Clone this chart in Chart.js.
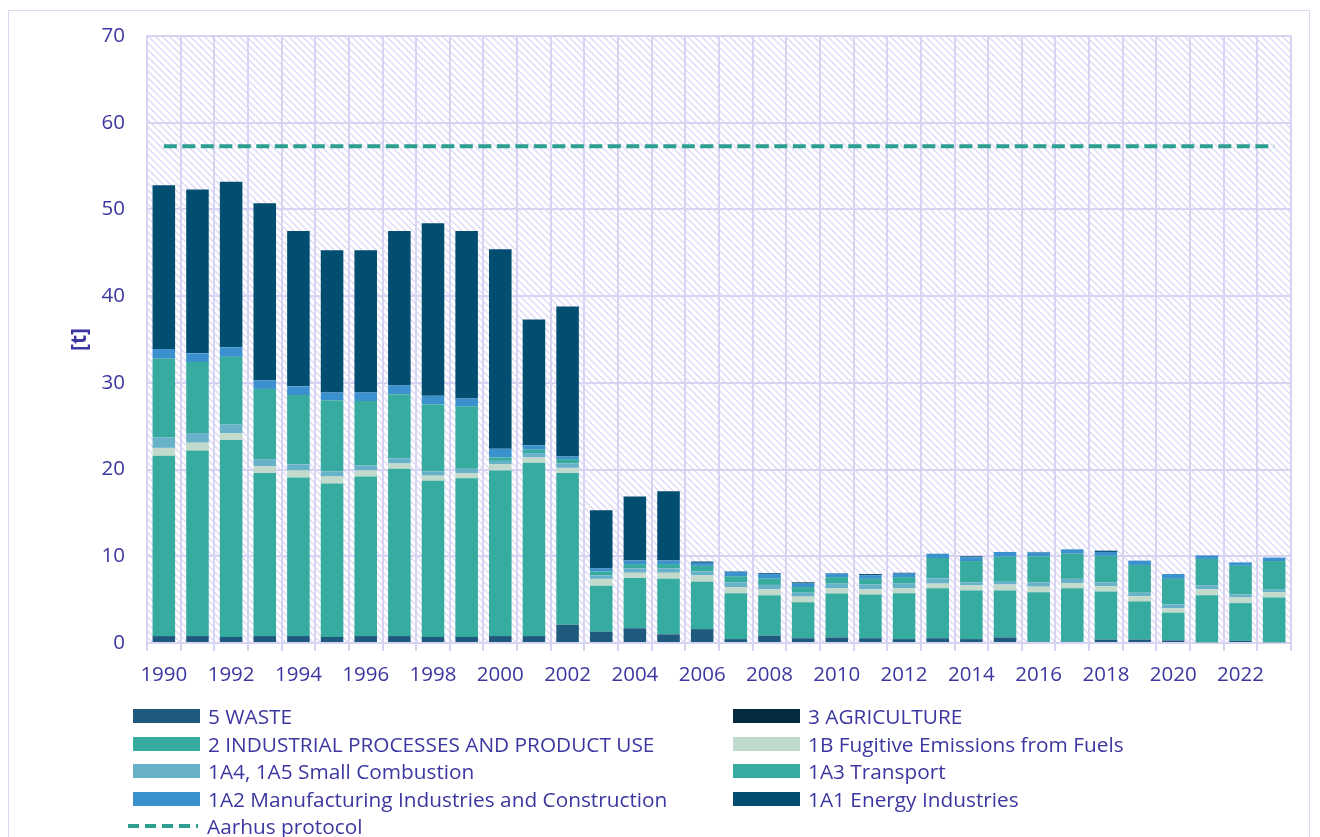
<!DOCTYPE html>
<html>
<head>
<meta charset="utf-8">
<script src="https://cdn.jsdelivr.net/npm/chart.js@4/dist/chart.umd.min.js"></script>
<style>
  html, body { margin: 0; padding: 0; background: #ffffff; }
  #wrap { position: relative; width: 1320px; height: 837px; overflow: hidden; }
  #frame { position: absolute; left: 8px; top: 10px; width: 1302px; height: 840px; border: 1px solid #dcd8f2; box-sizing: border-box; }
  #cv { position: absolute; left: 0; top: 0; }
  #legend { position: absolute; left: 0; top: 0; width: 1320px; height: 837px; pointer-events: none;
            font-family: "Open Sans", "Liberation Sans", sans-serif; font-size: 20.8px; color: #3c37a0; }
  .li { position: absolute; height: 28px; display: flex; align-items: center; white-space: nowrap; }
  .sw { width: 67px; height: 14px; margin-right: 8px; flex: none; }
  .dash { width: 70px; height: 4px; margin-right: 9px; flex: none; }
</style>
</head>
<body>
<div id="wrap">
  <div id="frame"></div>
  <canvas id="cv" width="1320" height="700"></canvas>
  <div id="legend"></div>
</div>
<script>
const years = ['1990','1991','1992','1993','1994','1995','1996','1997','1998','1999','2000','2001','2002','2003','2004','2005','2006','2007','2008','2009','2010','2011','2012','2013','2014','2015','2016','2017','2018','2019','2020','2021','2022','2023'];

const waste = [0.8,0.8,0.7,0.8,0.8,0.7,0.8,0.8,0.7,0.7,0.8,0.8,2.1,1.3,1.7,1.0,1.6,0.45,0.85,0.55,0.65,0.55,0.45,0.55,0.45,0.65,0.15,0.15,0.4,0.4,0.3,0.1,0.25,0.1];
const agriculture = [0,0,0,0,0,0,0,0,0,0,0,0,0,0,0,0,0,0,0,0,0,0,0,0,0,0,0,0,0,0,0,0,0,0];
const industrial = [20.8,21.4,22.7,18.8,18.3,17.7,18.4,19.3,18.0,18.3,19.1,20.0,17.5,5.3,5.8,6.4,5.45,5.3,4.65,4.15,5.05,5.05,5.3,5.75,5.6,5.4,5.7,6.15,5.55,4.4,3.2,5.4,4.35,5.15];
const fugitive = [0.9,0.9,0.8,0.8,0.8,0.8,0.7,0.6,0.6,0.6,0.7,0.6,0.6,0.8,0.6,0.7,0.75,0.7,0.7,0.65,0.6,0.6,0.55,0.55,0.6,0.7,0.65,0.6,0.6,0.6,0.5,0.7,0.65,0.6];
const smallCombustion = [1.2,1.1,1.0,0.8,0.7,0.6,0.6,0.6,0.5,0.5,0.4,0.5,0.5,0.4,0.5,0.5,0.45,0.55,0.5,0.45,0.55,0.55,0.55,0.6,0.35,0.4,0.5,0.5,0.45,0.4,0.45,0.45,0.35,0.3];
const transport = [9.1,8.2,7.8,8.1,8.0,8.2,7.4,7.4,7.7,7.2,0.4,0.4,0.5,0.45,0.5,0.5,0.65,0.7,0.75,0.65,0.75,0.65,0.75,2.35,2.45,2.8,3.0,2.9,3.05,3.2,2.95,3.05,3.3,3.3];
const manufacturing = [1.1,1.0,1.1,1.0,1.0,0.9,1.0,1.0,1.0,0.9,1.0,0.5,0.3,0.35,0.4,0.4,0.35,0.5,0.5,0.4,0.4,0.4,0.4,0.5,0.45,0.55,0.45,0.5,0.45,0.5,0.55,0.4,0.4,0.4];
const energy = [18.9,18.9,19.1,20.4,17.9,16.4,16.4,17.8,19.9,19.3,23.0,14.5,17.3,6.7,7.4,8.0,0.15,0.05,0.1,0.15,0.05,0.15,0.1,0,0.1,0,0.05,0,0.15,0,0,0,0,0];
const aarhusLimit = 57.3;

const yTicks = [0,10,20,30,40,50,60,70];

const TEXT = '#3c37a0';
const GRID = '#d7d3f2';
const FONT = '"Open Sans", "Liberation Sans", sans-serif';

const barSeries = [
  ['5 WASTE', waste, '#1f5a7e'],
  ['3 AGRICULTURE', agriculture, '#042b40'],
  ['2 INDUSTRIAL PROCESSES AND PRODUCT USE', industrial, '#36aba0'],
  ['1B Fugitive Emissions from Fuels', fugitive, '#c2dacb'],
  ['1A4, 1A5 Small Combustion', smallCombustion, '#67b2c9'],
  ['1A3 Transport', transport, '#37aba0'],
  ['1A2 Manufacturing Industries and Construction', manufacturing, '#3a91cd'],
  ['1A1 Energy Industries', energy, '#024e71']
];

const datasets = barSeries.map(([label, data, color]) => ({
  type: 'bar', label, data, backgroundColor: color, borderWidth: 0,
  barPercentage: 0.67, categoryPercentage: 1.0, stack: 'em', order: 1
}));
datasets.push({
  type: 'line', label: 'Aarhus protocol', data: years.map(() => aarhusLimit),
  borderColor: '#2d9f90', backgroundColor: '#2d9f90', borderWidth: 4, borderDash: [13, 5.5],
  pointRadius: 0, fill: false, stack: 'limit', order: 0
});

function makeHatch() {
  const n = 7;
  const t = document.createElement('canvas');
  t.width = n; t.height = n;
  const c = t.getContext('2d');
  c.fillStyle = '#ffffff'; c.fillRect(0, 0, n, n);
  c.strokeStyle = 'rgba(188,180,238,0.5)';
  c.lineWidth = 1.4;
  c.beginPath();
  c.moveTo(-1, -1); c.lineTo(n + 1, n + 1);
  c.moveTo(-n - 1, -1); c.lineTo(1, n + 1);
  c.moveTo(n - 1, -1); c.lineTo(2 * n + 1, n + 1);
  c.stroke();
  return t;
}

const hatchPlugin = {
  id: 'hatch',
  beforeDraw(chart) {
    const { ctx, chartArea: a } = chart;
    ctx.save();
    ctx.fillStyle = ctx.createPattern(makeHatch(), 'repeat');
    ctx.fillRect(a.left, a.top, a.right - a.left, a.bottom - a.top);
    ctx.restore();
  }
};

const chart = new Chart(document.getElementById('cv'), {
  data: { labels: years, datasets },
  plugins: [hatchPlugin],
  options: {
    responsive: false,
    animation: false,
    layout: { padding: { left: 0, top: 36, right: 29, bottom: 10 } },
    plugins: { legend: { display: false }, tooltip: { enabled: false } },
    scales: {
      x: {
        stacked: true,
        offset: true,
        grid: { display: true, offset: true, color: GRID, lineWidth: 2, drawTicks: true, tickLength: 8, tickColor: GRID },
        border: { display: true, color: GRID, width: 2 },
        ticks: {
          color: TEXT, font: { family: FONT, size: 20.5 }, padding: 12,
          autoSkip: false, maxRotation: 0,
          callback: function (v, i) { return i % 2 === 0 ? this.getLabelForValue(v) : ''; }
        },
        afterFit: s => { s.height = 47; }
      },
      y: {
        stacked: true,
        min: 0, max: 70,
        afterBuildTicks: s => { s.ticks = yTicks.map(v => ({ value: v })); },
        grid: { color: GRID, lineWidth: 2, drawTicks: false },
        border: { display: true, color: GRID, width: 2 },
        ticks: { color: TEXT, font: { family: FONT, size: 20.5 }, padding: 22 },
        title: { display: true, text: '[t]', color: TEXT, font: { family: FONT, size: 21, weight: 'bold' }, padding: { top: 67, bottom: 0 } },
        afterFit: s => { s.width = 147; }
      }
    }
  }
});

// HTML legend built from the chart's datasets (two columns)
const legend = document.getElementById('legend');
chart.data.datasets.forEach((ds, i) => {
  const col = i % 2, row = Math.floor(i / 2);
  const item = document.createElement('div');
  item.className = 'li';
  item.style.left = (col === 0 ? 131 : 731) + 'px';
  item.style.top = (716 + row * 27.6 - 14) + 'px';
  const sw = document.createElement('span');
  if (ds.type === 'line') {
    sw.className = 'dash';
    sw.style.marginLeft = '-3px';
    sw.style.background = 'repeating-linear-gradient(90deg,' + ds.borderColor + ' 0 11px, transparent 11px 17px)';
  } else {
    sw.className = 'sw';
    sw.style.background = ds.backgroundColor;
    sw.style.marginLeft = '2px';
  }
  const tx = document.createElement('span');
  tx.textContent = ds.label;
  item.appendChild(sw); item.appendChild(tx);
  legend.appendChild(item);
});
</script>
</body>
</html>
